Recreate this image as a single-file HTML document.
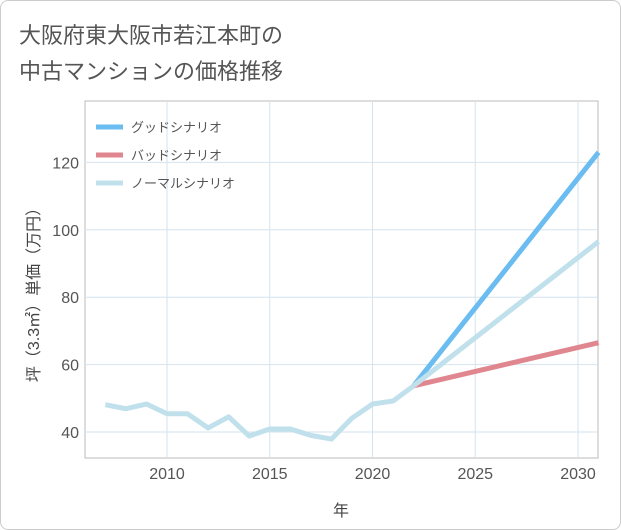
<!DOCTYPE html>
<html><head><meta charset="utf-8"><style>
body{margin:0;background:#fff;}
#card{position:absolute;left:0;top:0;width:619px;height:528px;border:1px solid #ccc;border-radius:8px;background:#fff;overflow:hidden}
svg text{font-family:"Liberation Sans","Noto Sans CJK JP",sans-serif;}
</style></head><body>
<div id="card">
<svg width="621" height="530" id="chart">
<text x="18" y="42" font-size="22" fill="#555">大阪府東大阪市若江本町の</text>
<text x="18" y="78" font-size="22" fill="#555">中古マンションの価格推移</text>
<rect x="84" y="100" width="513" height="357" fill="none" stroke="#bbb"/>
<g id="grid"></g><g id="series"></g>
<g id="legend"></g>
<text x="340" y="515" font-size="16" fill="#444" text-anchor="middle">年</text>
<text transform="translate(38,290) rotate(-90)" font-size="16" fill="#444" text-anchor="middle">坪（3.3㎡）単価（万円）</text>
</svg></div>
<script>
const years=[2007,2008,2009,2010,2011,2012,2013,2014,2015,2016,2017,2018,2019,2020,2021,2022];
const history=[48.1,46.9,48.3,45.4,45.4,41.2,44.5,38.8,40.9,40.9,39,37.9,44.1,48.3,49.2,53.7];
const scenarioYears=[2022,2031];
const goodValues=[53.7,123];
const badValues=[53.7,66.5];
const normalValues=[53.7,96.5];
const xTicks=[2010,2015,2020,2025,2030];
const yTicks=[40,60,80,100,120];
const legendLabels=["グッドシナリオ","バッドシナリオ","ノーマルシナリオ"];
const NS="http://www.w3.org/2000/svg";
const X=y=>166+(y-2010)*20.55;
const Y=v=>431-(v-40)*3.37;
const grid=document.getElementById('grid'),ser=document.getElementById('series'),leg=document.getElementById('legend');
function mk(tag,attrs,parent){const e=document.createElementNS(NS,tag);for(const k in attrs)e.setAttribute(k,attrs[k]);parent.appendChild(e);return e;}
xTicks.forEach(t=>{
 const l=mk('line',{x1:X(t),x2:X(t),y1:100,y2:457,stroke:'#d5e3ee'},grid);
 
 
 const tx=mk('text',{x:X(t),y:478,'font-size':16,fill:'#555','text-anchor':'middle'},grid);tx.textContent=t;
 
 
});
yTicks.forEach(t=>{
 const l=mk('line',{x1:84,x2:597,y1:Y(t),y2:Y(t),stroke:'#d5e3ee'},grid);
 
 
 const tx=mk('text',{x:78,y:Y(t)+6,'font-size':16,fill:'#555','text-anchor':'end'},grid);tx.textContent=t;
 
 
});
function line(xs,vs,color,name){
 const p=mk('polyline',{points:xs.map((x,i)=>X(x)+','+Y(vs[i])).join(' '),fill:'none',stroke:color,'stroke-width':5,'stroke-linejoin':'round'},ser);
 
 
}
line(scenarioYears,badValues,'#e0868f','bad-scenario-line');
line(scenarioYears,goodValues,'#6bbcf0','good-scenario-line');
line(scenarioYears,normalValues,'#c0e0ec','normal-scenario-line');
line(years,history,'#c0e0ec','history-line');
const lc=['#6bbcf0','#e0868f','#c0e0ec'];
legendLabels.forEach((s,i)=>{
 const y=126+i*28;
 const l=mk('line',{x1:95,x2:122,y1:y,y2:y,stroke:lc[i],'stroke-width':5},leg);
 
 
 const t=mk('text',{x:130,y:y+5,'font-size':13,fill:'#555'},leg);t.textContent=s;
 
 
});
</script>
</body></html>
